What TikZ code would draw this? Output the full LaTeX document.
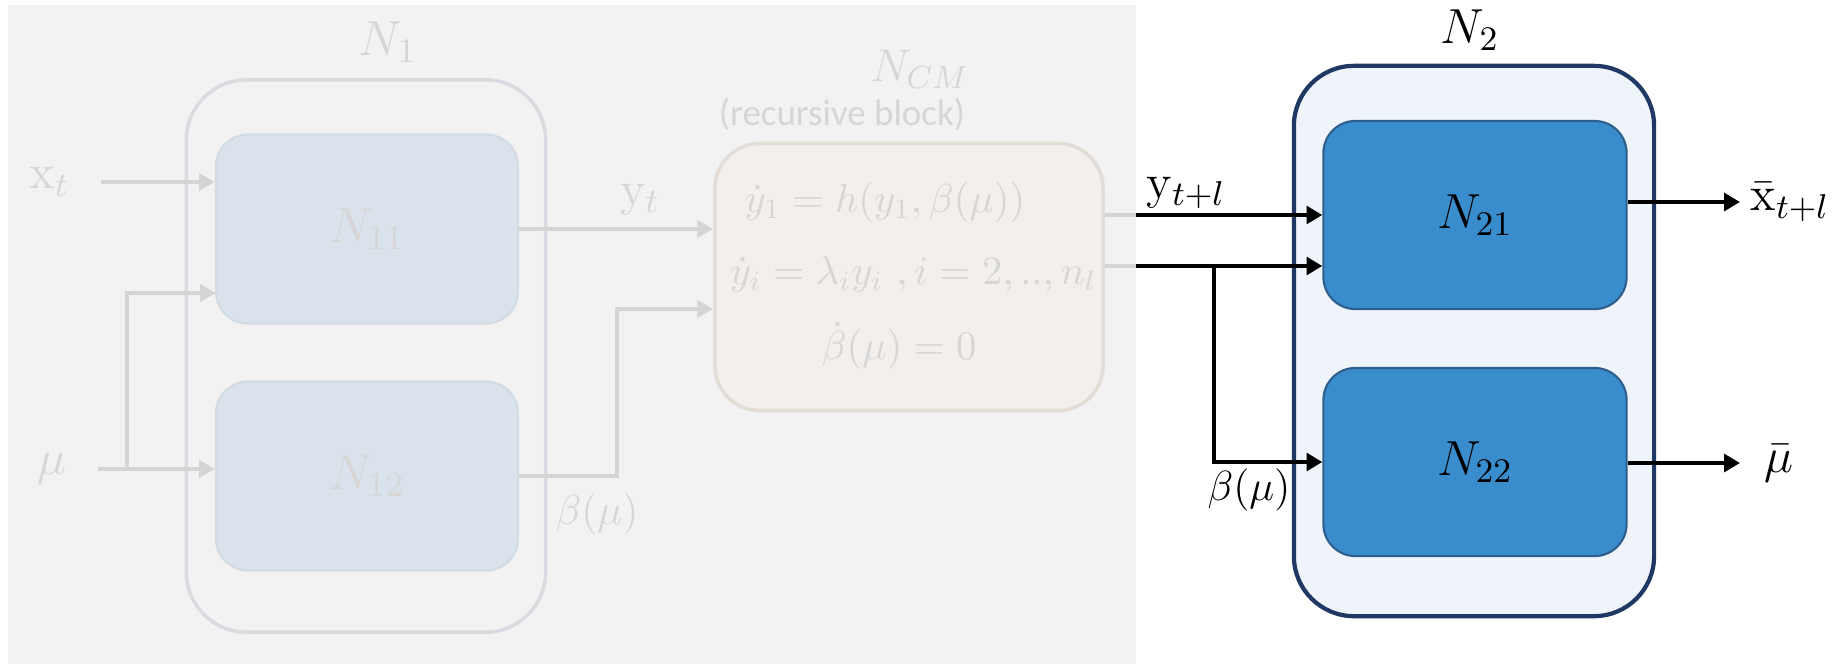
\RequirePackage{fix-cm}
\documentclass[tikz,border=0pt]{standalone}
\usepackage{fontspec}
\newfontfamily\calibri{Carlito}
\usetikzlibrary{arrows.meta}

\definecolor{bgfill}{HTML}{F2F2F2}
\definecolor{greytext}{HTML}{D6D6D6}
\definecolor{greyline}{HTML}{D4D4D4}
\definecolor{outerbord}{HTML}{D8DBE0}
\definecolor{infill}{HTML}{DAE3EB}
\definecolor{inbord}{HTML}{D3DBE3}
\definecolor{cmfill}{HTML}{F2EFEC}
\definecolor{cmbord}{HTML}{E3DDD8}
\definecolor{n2fill}{HTML}{EFF4FB}
\definecolor{n2bord}{HTML}{1F3864}
\definecolor{bluefill}{HTML}{3A8DCC}
\definecolor{bluebord}{HTML}{2E5F8C}

\tikzset{
  outergray/.style={draw=outerbord, line width=1pt, fill=bgfill, rounded corners=0.6cm,
    minimum width=3.59cm, minimum height=5.52cm},
  innergray/.style={draw=inbord, line width=0.6pt, fill=infill, rounded corners=0.32cm,
    minimum width=3.02cm, minimum height=1.89cm, text=greytext},
  cmbox/.style={draw=cmbord, line width=1pt, fill=cmfill, rounded corners=0.45cm,
    minimum width=3.88cm, minimum height=2.67cm},
  outerblue/.style={draw=n2bord, line width=1.2pt, fill=n2fill, rounded corners=0.6cm,
    minimum width=3.60cm, minimum height=5.50cm},
  innerblue/.style={draw=bluebord, line width=0.6pt, fill=bluefill, rounded corners=0.32cm,
    minimum width=3.03cm, minimum height=1.88cm},
  glabel/.style={text=greytext, inner sep=1pt},
  blabel/.style={text=black, inner sep=1pt},
  eqtext/.style={glabel, font=\fontsize{11.5}{13}\selectfont},
  smalllab/.style={font=\fontsize{12}{14}\selectfont},
  grayline/.style={draw=greyline, line width=1.1pt},
  grayarrow/.style={grayline, -{Triangle[length=4.5pt,width=4.8pt]}},
  blackline/.style={draw=black, line width=1.3pt},
  blackarrow/.style={blackline, -{Triangle[length=4.5pt,width=5pt]}}
}

\begin{document}
\begin{tikzpicture}[x=0.01cm, y=-0.01cm, font=\fontsize{14}{16}\selectfont]
  \useasboundingbox (0,0) rectangle (1841,666);
  \fill[bgfill] (8,5) rectangle (1136,664);

  % first network
  \node[outergray] (n1) at (366,356) {};
  \node[innergray] (n11) at (367,229) {$N_{11}$};
  \node[innergray] (n12) at (367,476) {$N_{12}$};
  \node[glabel] (n1lab) at (388,42) {$N_1$};

  % recursive block
  \node[cmbox] (ncm) at (909,277) {};
  \node[glabel, font=\fontsize{13}{15}\selectfont] (ncmlab) at (920,69) {$N_{CM}$};
  \node[glabel, font=\calibri\fontsize{10.5}{12}\selectfont] (rec) at (842,115) {(recursive block)};
  \node[eqtext] (eqa) at (885,202) {$\dot{y}_1 = h(y_1,\beta(\mu))$};
  \node[eqtext] (eqb) at (913,274) {$\dot{y}_i = \lambda_i y_i\ ,i = 2,..,n_l$};
  \node[eqtext] (eqc) at (899,346) {$\dot{\beta}(\mu) = 0$};

  % inputs
  \node[glabel, anchor=east, inner xsep=8.8pt] (xt) at (101,182) {$\mathrm{x}_t$};
  \node[glabel, anchor=east, inner xsep=8.8pt] (mu) at (98,469) {$\mu$};
  \coordinate (mubr) at (127,469);
  \coordinate (mutop) at (216,293);
  \draw[grayarrow] (xt.east) -- (n11.west |- xt.east);
  \draw[grayarrow] (mu.east) -- (n12.west |- mu.east);
  \draw[grayarrow] (mubr) |- (mutop);

  \coordinate (bbend) at (617,309);
  \draw[grayarrow] (n11.east) -- (ncm.west |- n11.east);
  \draw[grayarrow] (n12.east) -| (bbend) -- (ncm.west |- bbend);
  \node[glabel] (yt) at (640,200) {$\mathrm{y}_t$};
  \node[glabel, smalllab] (beta1) at (597,514) {$\beta(\mu)$};

  \coordinate (oa) at (1136,215);
  \coordinate (ob) at (1136,266);
  \draw[grayline] (ncm.east |- oa) -- (oa);
  \draw[grayline] (ncm.east |- ob) -- (ob);

  % second network
  \node[outerblue] (n2) at (1474,341) {};
  \node[innerblue] (n21) at (1475,215) {$N_{21}$};
  \node[innerblue] (n22) at (1475,462) {$N_{22}$};
  \node[blabel] (n2lab) at (1470,30) {$N_2$};

  \coordinate (bbr) at (1214,266);
  \draw[blackarrow] (oa) -- (n21.west |- oa);
  \draw[blackarrow] (ob) -- (n21.west |- ob);
  \draw[blackarrow] (bbr) |- (n22.west);
  \node[blabel] (ytl) at (1186,193) {$\mathrm{y}_{t+l}$};
  \node[blabel, smalllab] (beta2) at (1249,490) {$\beta(\mu)$};

  % outputs
  \node[blabel, anchor=west, inner xsep=2.8pt] (xbar) at (1740,202) {$\bar{\mathrm{x}}_{t+l}$};
  \node[blabel, anchor=west, inner xsep=6.8pt] (mubar) at (1740,463) {$\bar{\mu}$};
  \draw[blackarrow] (n21.east |- xbar.west) -- (xbar.west);
  \draw[blackarrow] (n22.east |- mubar.west) -- (mubar.west);
\end{tikzpicture}
\end{document}
